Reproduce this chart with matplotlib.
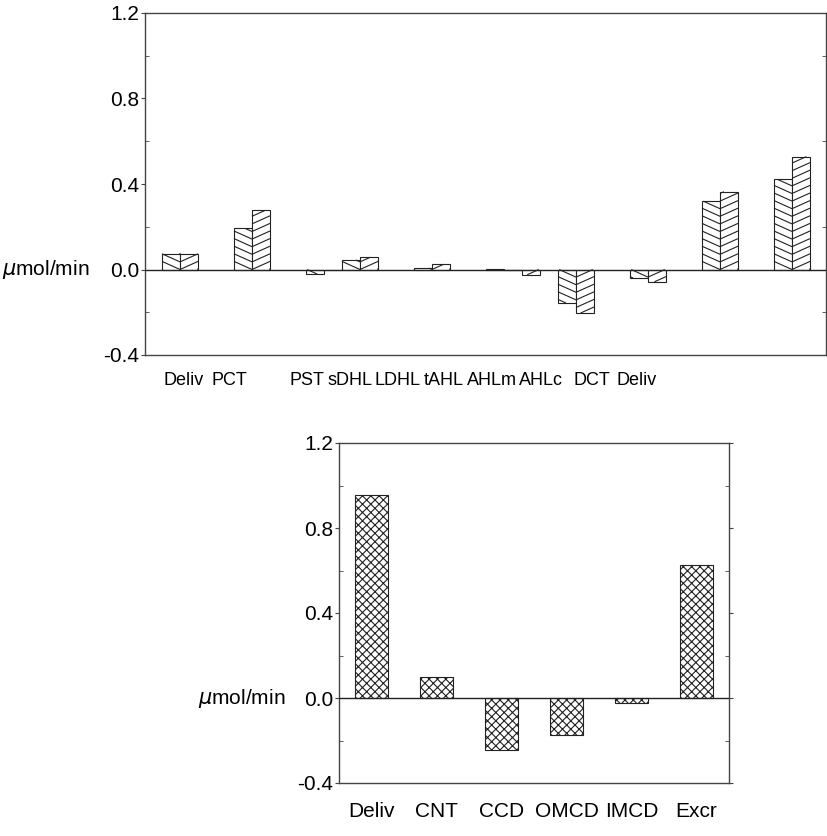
import numpy as np
import matplotlib
matplotlib.use('Agg')
import matplotlib.pyplot as plt
import matplotlib as mpl
from matplotlib.collections import LineCollection
from matplotlib.transforms import IdentityTransform

mpl.rcParams['font.family'] = ['Liberation Sans', 'DejaVu Sans']
mpl.rcParams['font.size'] = 15
mpl.rcParams['hatch.linewidth'] = 0.8
mpl.rcParams['hatch.color'] = '#222222'

## top panel: nephron segments, two series per segment
top_labels = ['Deliv', 'PCT', 'PST', 'sDHL', 'LDHL', 'tAHL', 'AHLm', 'AHLc', 'DCT', 'Deliv']
series_a = [0.074, 0.193, -0.022, 0.045, 0.007, 0.003, 0.0, -0.157, -0.040, 0.320, 0.422]
series_b = [0.074, 0.277, 0.0, 0.058, 0.025, 0.0, -0.025, -0.204, -0.058, 0.364, 0.528]

## bottom panel: collecting duct
bot_labels = ['Deliv', 'CNT', 'CCD', 'OMCD', 'IMCD', 'Excr']
bot_values = [0.955, 0.100, -0.245, -0.174, -0.024, 0.626]

yticks = [-0.4, 0.0, 0.4, 0.8, 1.2]
ytick_labels = ['-0.4', '0.0', '0.4', '0.8', '1.2']

# layout only (slot = one bar width)
group_slot = [0, 4, 8, 10, 14, 18, 19, 22, 26, 30, 34]
top_label_px = [184, 229, 307, 350, 398, 444, 492, 541, 592, 637]

spine_col = '#444444'
ink = '#222222'


def style_axes(ax):
    ax.set_ylim(-0.4, 1.2)
    ax.set_yticks(yticks)
    ax.set_yticklabels(ytick_labels)
    ax.set_yticks(np.arange(-0.4, 1.21, 0.2), minor=True)
    ax.tick_params(axis='y', which='major', direction='out', length=3,
                   width=0.8, color=spine_col, pad=1, labelsize=15)
    ax.tick_params(axis='y', which='minor', direction='in', length=3,
                   width=0.6, color=spine_col, right=True)
    ax.tick_params(axis='y', which='major', right=True)
    ax.tick_params(axis='x', which='both', bottom=False, labelbottom=False)
    for s in ax.spines.values():
        s.set_color(spine_col)
        s.set_linewidth(1.0)
    ax.axhline(0, color=ink, lw=1.0, zorder=3)


def chevron_hatch(ax, patch, x_mid, slope=0.45, step=7.6):
    # shallow diagonal lines that meet at the shared edge of a bar pair
    bb = patch.get_window_extent()
    if bb.height < 1:
        return
    xm = ax.transData.transform((x_mid, 0))[0]
    y0 = ax.transData.transform((0, 0))[1]
    lo, hi = bb.y0, bb.y1
    segs = []
    for k in range(-80, 80):
        yk = y0 + k * step
        xs = np.linspace(bb.x0, bb.x1, 60)
        ys = yk + slope * np.abs(xs - xm)
        ok = (ys >= lo) & (ys <= hi)
        if ok.sum() < 2:
            continue
        segs.append(np.column_stack([xs[ok], ys[ok]]))
    lc = LineCollection(segs, colors=ink, linewidths=0.8,
                        transform=IdentityTransform(), zorder=2.5)
    ax.add_collection(lc)


fig = plt.figure(figsize=(8.27, 8.36), dpi=100)

# ---- top
ax1 = fig.add_axes([145/827, 1-355/836, 681/827, 342/836])
x_a = np.array(group_slot, dtype=float)
bars_a = ax1.bar(x_a, series_a, width=1.0, align='edge', color='white',
                 edgecolor=ink, linewidth=0.8, zorder=2)
bars_b = ax1.bar(x_a + 1, series_b, width=1.0, align='edge', color='white',
                 edgecolor=ink, linewidth=0.8, zorder=2)
ax1.set_xlim(-17/18, 664/18)
style_axes(ax1)
for xm, pa, pb in zip(x_a + 1, bars_a, bars_b):
    chevron_hatch(ax1, pa, xm)
    chevron_hatch(ax1, pb, xm)
for lx, lab in zip(top_label_px, top_labels):
    ax1.text((lx - 145) / 681, -0.076, lab, transform=ax1.transAxes,
             ha='center', va='center', fontsize=13)
ax1.text(-0.081, 0.0, r'$\mu$mol/min', transform=ax1.get_yaxis_transform(),
         ha='right', va='center', fontsize=15)

# ---- bottom
ax2 = fig.add_axes([339/827, 1-783/836, 390/827, 340/836])
xb = np.arange(len(bot_values))
ax2.bar(xb, bot_values, width=0.5, color='white', edgecolor=ink,
        linewidth=0.8, hatch='xxxx', zorder=2)
ax2.set_xlim(-0.5, len(bot_values) - 0.5)
style_axes(ax2)
for lx, lab in zip(xb, bot_labels):
    ax2.text(lx, -0.085, lab, transform=ax2.get_xaxis_transform(),
             ha='center', va='center', fontsize=15)
ax2.text(-0.138, 0.0, r'$\mu$mol/min', transform=ax2.get_yaxis_transform(),
         ha='right', va='center', fontsize=15)

fig.savefig('out.png', dpi=100)
